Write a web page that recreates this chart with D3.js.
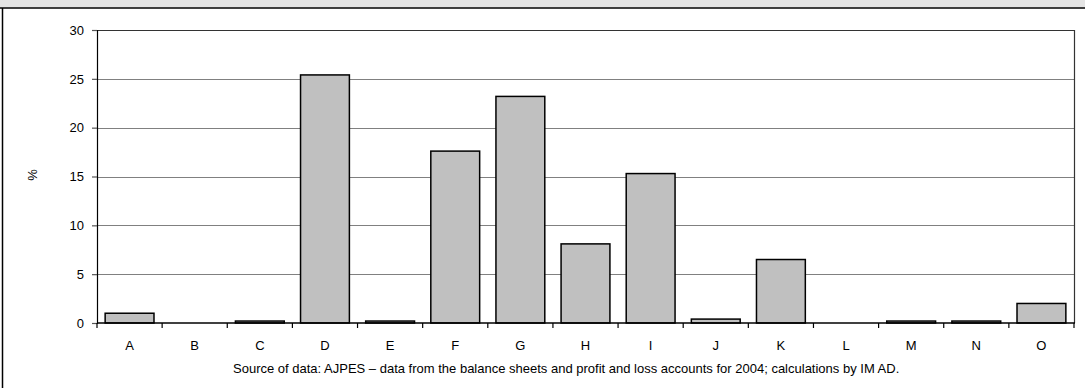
<!DOCTYPE html>
<html>
<head>
<meta charset="utf-8">
<script src="https://cdn.jsdelivr.net/npm/d3@7/dist/d3.min.js"></script>
<style>
  html, body { margin: 0; padding: 0; background: #fff; }
  svg { display: block; font-family: Arial, "Liberation Sans", sans-serif; }
</style>
</head>
<body>
<svg id="chart" width="1085" height="388"></svg>
<script>
// Activities (NACE sections) and their shares, in %
const categories = ["A","B","C","D","E","F","G","H","I","J","K","L","M","N","O"];
const values = [1.0, 0, 0.2, 25.4, 0.2, 17.6, 23.2, 8.1, 15.3, 0.4, 6.5, 0, 0.2, 0.2, 2.0];
const yTicks = [0, 5, 10, 15, 20, 25, 30];
const yLabel = "%";
const sourceNote = "Source of data: AJPES \u2013 data from the balance sheets and profit and loss accounts for 2004; calculations by IM AD.";

const FONT = "Arial, 'Liberation Sans', sans-serif";
const svg = d3.select("#chart");
const W = 1085, H = 388;
const plot = { left: 97, right: 1074, top: 30, bottom: 323 };

// panel frame: grey header band and left rule
svg.append("rect").attr("x", 0).attr("y", 0).attr("width", W).attr("height", 7.5).attr("fill", "#e4e4e4");
svg.append("line").attr("x1", 0).attr("x2", W).attr("y1", 8).attr("y2", 8)
  .attr("stroke", "#000").attr("stroke-width", 1.5);
svg.append("line").attr("x1", 2.5).attr("x2", 2.5).attr("y1", 8).attr("y2", H)
  .attr("stroke", "#000").attr("stroke-width", 1.5);

const x = d3.scaleBand().domain(categories)
  .range([plot.left, plot.right]).paddingInner(0.25).paddingOuter(0.125);
const y = d3.scaleLinear().domain([0, 30]).range([plot.bottom, plot.top]);

// horizontal gridlines
svg.append("g").selectAll("line").data(yTicks.filter(t => t > 0 && t < 30)).join("line")
  .attr("x1", plot.left).attr("x2", plot.right)
  .attr("y1", d => Math.round(y(d)) + 0.5).attr("y2", d => Math.round(y(d)) + 0.5)
  .attr("stroke", "#808080").attr("stroke-width", 1.2);

// plot area border (top and right)
svg.append("path")
  .attr("d", `M${plot.left},${plot.top + 0.5}H${plot.right + 0.5}V${plot.bottom}`)
  .attr("fill", "none").attr("stroke", "#333").attr("stroke-width", 1.2);

// bars
svg.append("g").selectAll("rect").data(values).join("rect")
  .attr("x", (d, i) => x(categories[i]))
  .attr("width", x.bandwidth())
  .attr("y", d => y(d))
  .attr("height", d => plot.bottom - y(d))
  .attr("fill", "#c0c0c0")
  .attr("stroke", "#000")
  .attr("stroke-width", d => d > 0 ? 1.5 : 0);

// y axis
const yAxis = d3.axisLeft(y).tickValues(yTicks).tickSize(5).tickPadding(8).tickFormat(d3.format("d"));
const gy = svg.append("g").attr("transform", `translate(${plot.left},0)`).call(yAxis);
gy.attr("font-size", null).attr("font-family", null);
gy.select(".domain").attr("stroke", "#000").attr("stroke-width", 1.2);
gy.selectAll(".tick line").attr("stroke", "#555").attr("stroke-width", 1.2);
gy.selectAll(".tick text").style("font-size", "13px").style("font-family", FONT).attr("fill", "#000");

// x axis with ticks at category boundaries
const gx = svg.append("g").attr("transform", `translate(0,${plot.bottom})`);
gx.append("line").attr("x1", plot.left).attr("x2", plot.right + 1)
  .attr("stroke", "#000").attr("stroke-width", 1.5);
const bounds = d3.range(categories.length + 1).map(i => plot.left + i * (plot.right - plot.left) / categories.length);
gx.selectAll(".bt").data(bounds).join("line").attr("class", "bt")
  .attr("x1", d => d).attr("x2", d => d).attr("y1", 0).attr("y2", 5)
  .attr("stroke", "#000").attr("stroke-width", 1.2);
gx.selectAll("text").data(categories).join("text")
  .attr("x", d => x(d) + x.bandwidth() / 2)
  .attr("y", 27)
  .attr("text-anchor", "middle")
  .style("font-size", "13px").style("font-family", FONT).attr("fill", "#000")
  .text(d => d);

// y-axis title
svg.append("text")
  .attr("transform", `translate(37,175) rotate(-90)`)
  .attr("text-anchor", "middle")
  .style("font-size", "13px").style("font-family", FONT).attr("fill", "#000")
  .text(yLabel);

// source note
svg.append("text")
  .attr("x", 233).attr("y", 373)
  .style("font-size", "13px").style("font-family", FONT).attr("fill", "#000")
  .text(sourceNote);
</script>
</body>
</html>
